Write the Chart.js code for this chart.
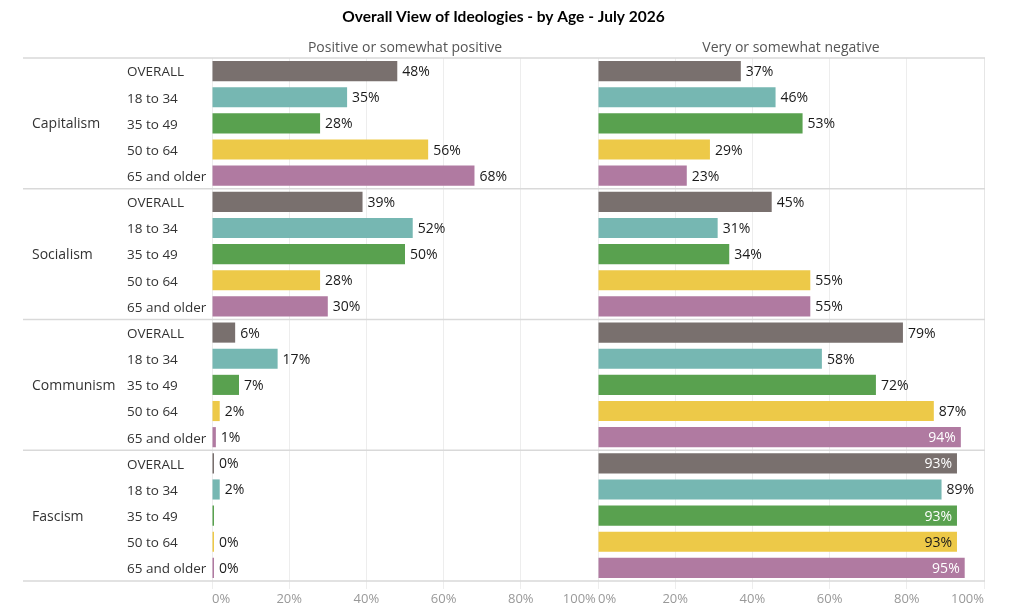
<!DOCTYPE html>
<html>
<head>
<meta charset="utf-8">
<script src="https://cdn.jsdelivr.net/npm/chart.js@4.4.1/dist/chart.umd.min.js"></script>
<style>
  html, body { margin: 0; padding: 0; background: #fff; }
  #wrap { width: 1024px; height: 613px; }
</style>
</head>
<body>
<div id="wrap"><canvas id="chartIdeologies" width="1024" height="613"></canvas></div>
<script>
var ideologies = ['Capitalism', 'Socialism', 'Communism', 'Fascism'];
var ageGroups = ['OVERALL', '18 to 34', '35 to 49', '50 to 64', '65 and older'];
var ageColors = ['#79706e', '#76b7b2', '#59a14f', '#edc948', '#b07aa1'];
var sideTitles = ['Positive or somewhat positive', 'Very or somewhat negative'];
var xTicks = [0, 20, 40, 60, 80, 100];

// % positive / % negative, in the order of ageGroups
var capitalismPos = [48, 35, 28, 56, 68];
var capitalismNeg = [37, 46, 53, 29, 23];
var socialismPos = [39, 52, 50, 28, 30];
var socialismNeg = [45, 31, 34, 55, 55];
var communismPos = [6, 17, 7, 2, 1];
var communismNeg = [79, 58, 72, 87, 94];
var fascismPos = [0, 2, 0, 0, 0];
var fascismNeg = [93, 89, 93, 93, 95];

// rows that show no value label in the original
var unlabeled = ['Fascism|35 to 49|pos'];

var titulo = 'Overall View of Ideologies - by Age - July 2026';
var fonte = '"Open Sans", "Noto Sans", sans-serif';

var rowLabels = [];
var rowIdeology = [];
var rowColors = [];
ideologies.forEach(function (ideo) {
    ageGroups.forEach(function (age, j) {
        rowLabels.push(age);
        rowIdeology.push(ideo);
        rowColors.push(ageColors[j]);
    });
});
var posData = capitalismPos.concat(socialismPos, communismPos, fascismPos);
var negData = capitalismNeg.concat(socialismNeg, communismNeg, fascismNeg);

var extras = {
    id: 'extras',
    beforeDatasetsDraw: function (chart) {
        var ctx = chart.ctx;
        var y = chart.scales.y;
        var area = chart.chartArea;
        ctx.save();
        // right border
        ctx.strokeStyle = '#e6e6e6';
        ctx.lineWidth = 1;
        ctx.beginPath();
        ctx.moveTo(Math.round(area.right) + 0.5, area.top);
        ctx.lineTo(Math.round(area.right) + 0.5, area.bottom);
        ctx.stroke();
        // group separators
        ctx.strokeStyle = '#d9d9d9';
        ctx.lineWidth = 1.5;
        for (var g = 0; g <= ideologies.length; g++) {
            var py;
            if (g === 0) py = area.top;
            else if (g === ideologies.length) py = area.bottom;
            else py = (y.getPixelForValue(g * 5 - 1) + y.getPixelForValue(g * 5)) / 2;
            ctx.beginPath();
            ctx.moveTo(23, py);
            ctx.lineTo(area.right + 1, py);
            ctx.stroke();
        }
        ctx.restore();
    },
    afterDatasetsDraw: function (chart) {
        var ctx = chart.ctx;
        ctx.save();
        ctx.font = '14px ' + fonte;
        ctx.textBaseline = 'middle';
        chart.data.datasets.forEach(function (ds, d) {
            var meta = chart.getDatasetMeta(d);
            var xs = chart.scales[ds.xAxisID];
            meta.data.forEach(function (bar, i) {
                var key = rowIdeology[i] + '|' + rowLabels[i] + '|' + (d === 0 ? 'pos' : 'neg');
                if (unlabeled.indexOf(key) >= 0) return;
                var txt = ds.data[i] + '%';
                var w = ctx.measureText(txt).width;
                if (bar.x + 5 + w > xs.right) {
                    ctx.textAlign = 'right';
                    ctx.fillStyle = rowColors[i] === '#edc948' ? '#1a1a1a' : '#fff';
                    ctx.fillText(txt, bar.x - 5, bar.y + 1);
                } else {
                    ctx.textAlign = 'left';
                    ctx.fillStyle = '#1a1a1a';
                    ctx.fillText(txt, bar.x + 5, bar.y + 1);
                }
            });
        });
        ctx.restore();
    },
    afterDraw: function (chart) {
        var ctx = chart.ctx;
        var area = chart.chartArea;
        var y = chart.scales.y;
        ctx.save();
        ctx.textBaseline = 'middle';
        // title
        ctx.font = 'bold 15.5px Lato, ' + fonte;
        ctx.fillStyle = '#000';
        ctx.textAlign = 'center';
        ctx.fillText(titulo, (23 + area.right) / 2, 17);
        // side headers
        ctx.font = '14px ' + fonte;
        ctx.fillStyle = '#555';
        ['xPos', 'xNeg'].forEach(function (id, k) {
            var s = chart.scales[id];
            ctx.fillText(sideTitles[k], (s.left + s.right) / 2, 48);
        });
        // ideology names
        ctx.font = '14px ' + fonte;
        ctx.fillStyle = '#333';
        ctx.textAlign = 'left';
        ideologies.forEach(function (ideo, g) {
            ctx.fillText(ideo, 32, y.getPixelForValue(g * 5 + 2) + 1);
        });
        ctx.restore();
    }
};

function xScale(id) {
    return {
        type: 'linear',
        position: 'bottom',
        stack: 'sides',
        stackWeight: 1,
        min: 0,
        max: 100,
        afterBuildTicks: function (s) {
            s.ticks = xTicks.map(function (v) { return { value: v }; });
        },
        afterFit: function (s) { s.height = 32; },
        ticks: {
            align: 'inner',
            color: '#999',
            padding: 2,
            font: { family: fonte, size: 13 },
            callback: function (v) {
                // small gap between the two panels' end labels
                return (id === 'xPos' && v === 100) ? v + '%\u2009' : v + '%';
            }
        },
        grid: { color: '#ededed', tickLength: 8 },
        border: { display: false }
    };
}

new Chart(document.getElementById('chartIdeologies'), {
    type: 'bar',
    data: {
        labels: rowLabels,
        datasets: [{
            label: sideTitles[0],
            data: posData,
            xAxisID: 'xPos',
            backgroundColor: rowColors,
            grouped: false,
            minBarLength: 2,
            barPercentage: 0.77,
            categoryPercentage: 1
        }, {
            label: sideTitles[1],
            data: negData,
            xAxisID: 'xNeg',
            backgroundColor: rowColors,
            grouped: false,
            minBarLength: 2,
            barPercentage: 0.77,
            categoryPercentage: 1
        }]
    },
    options: {
        indexAxis: 'y',
        responsive: false,
        animation: false,
        layout: { padding: { top: 58, left: 127, right: 40, bottom: 0 } },
        plugins: {
            legend: { display: false },
            title: { display: false },
            tooltip: { enabled: false }
        },
        scales: {
            xPos: xScale('xPos'),
            xNeg: xScale('xNeg'),
            y: {
                type: 'category',
                position: 'left',
                afterFit: function (s) { s.width = 85; },
                grid: { display: false },
                border: { display: false },
                ticks: {
                    autoSkip: false,
                    crossAlign: 'far',
                    labelOffset: 1.5,
                    color: '#333',
                    font: { family: fonte, size: 13.5 }
                }
            }
        }
    },
    plugins: [extras]
});
</script>
</body>
</html>
